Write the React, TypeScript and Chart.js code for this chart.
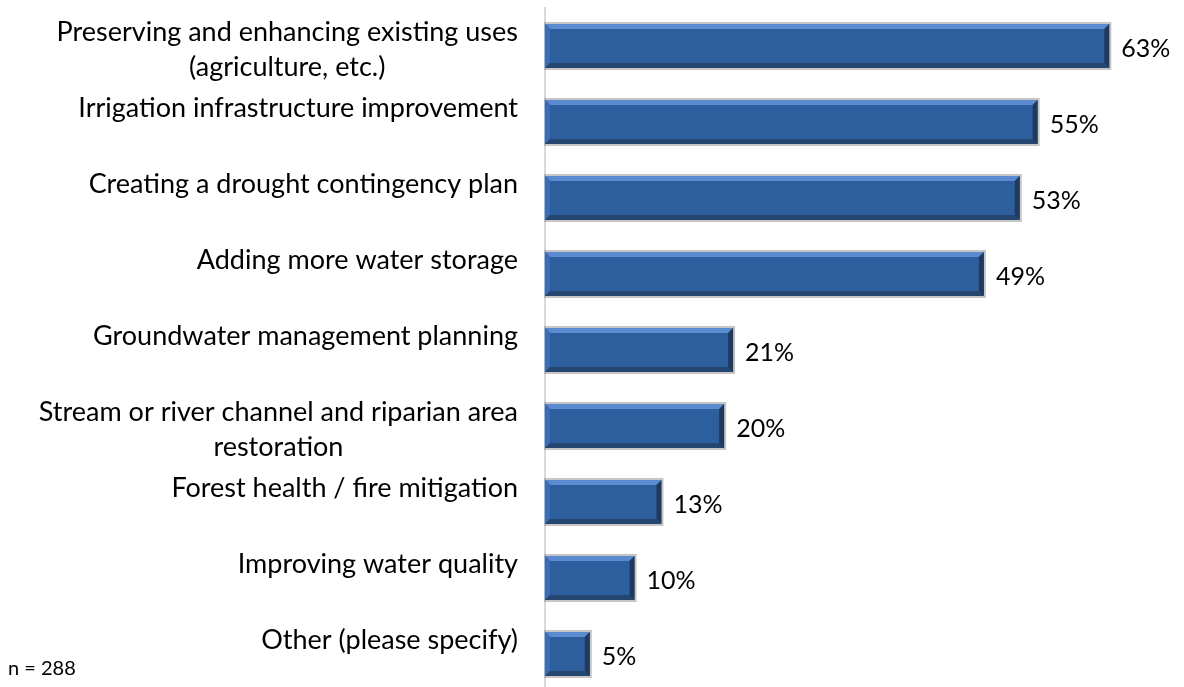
import React, { useEffect, useRef } from "react";
import { Chart, registerables } from "chart.js";

Chart.register(...registerables);

const categories: string[][] = [
  ["Preserving and enhancing existing uses", "(agriculture, etc.)"],
  ["Irrigation infrastructure improvement"],
  ["Creating a drought contingency plan"],
  ["Adding more water storage"],
  ["Groundwater management planning"],
  ["Stream or river channel and riparian area", "restoration"],
  ["Forest health / fire mitigation"],
  ["Improving water quality"],
  ["Other (please specify)"],
];
const values: number[] = [63, 55, 53, 49, 21, 20, 13, 10, 5];
const sampleNote = "n = 288";

const FONT = "Lato, 'Open Sans', sans-serif";

const bevelPlugin = {
  id: "bevel",
  afterDatasetsDraw(chart: any) {
    const ctx = chart.ctx;
    const meta = chart.getDatasetMeta(0);
    ctx.save();
    meta.data.forEach((bar: any, i: number) => {
      const { x, y, base, height } = bar.getProps(["x", "y", "base", "height"], true);
      const left = base;
      const right = x;
      const top = y - height / 2;
      const bottom = y + height / 2;
      const w = right - left;
      const b = Math.min(5, w / 4);
      // outline shadow
      ctx.strokeStyle = "rgba(150,150,150,0.55)";
      ctx.lineWidth = 2;
      ctx.strokeRect(left, top - 1, w + 1, height + 2);
      // top highlight
      ctx.fillStyle = "#5A8AD0";
      ctx.beginPath();
      ctx.moveTo(left, top);
      ctx.lineTo(right, top);
      ctx.lineTo(right - b, top + b);
      ctx.lineTo(left + b, top + b);
      ctx.closePath();
      ctx.fill();
      // left
      ctx.fillStyle = "#3C6DB2";
      ctx.beginPath();
      ctx.moveTo(left, top);
      ctx.lineTo(left + b, top + b);
      ctx.lineTo(left + b, bottom - b);
      ctx.lineTo(left, bottom);
      ctx.closePath();
      ctx.fill();
      // bottom
      ctx.fillStyle = "#24466F";
      ctx.beginPath();
      ctx.moveTo(left, bottom);
      ctx.lineTo(left + b, bottom - b);
      ctx.lineTo(right - b, bottom - b);
      ctx.lineTo(right, bottom);
      ctx.closePath();
      ctx.fill();
      // right
      ctx.fillStyle = "#1E3A60";
      ctx.beginPath();
      ctx.moveTo(right, top);
      ctx.lineTo(right, bottom);
      ctx.lineTo(right - b, bottom - b);
      ctx.lineTo(right - b, top + b);
      ctx.closePath();
      ctx.fill();
      // value label
      ctx.fillStyle = "#000";
      ctx.font = `25px ${FONT}`;
      ctx.textAlign = "left";
      ctx.textBaseline = "middle";
      ctx.fillText(values[i] + "%", right + 12, y + 3);
    });

    // category labels: block right-aligned, lines centered within block
    const yScale = chart.scales.y;
    ctx.font = `27px ${FONT}`;
    ctx.fillStyle = "#000";
    ctx.textAlign = "center";
    ctx.textBaseline = "middle";
    const labelRight = yScale.right - 27;
    categories.forEach((lines, i) => {
      const cy = yScale.getPixelForValue(i);
      const blockW = Math.max(...lines.map((l) => ctx.measureText(l).width));
      const cx = labelRight - blockW / 2;
      lines.forEach((line, j) => {
        ctx.fillText(line, cx, cy - 14 + j * 35);
      });
    });
    ctx.restore();
  },
};

export default function App() {
  const ref = useRef<HTMLCanvasElement | null>(null);
  useEffect(() => {
    document.body.style.margin = "0";
    if (!ref.current) return;
    const chart = new Chart(ref.current, {
      type: "bar",
      data: {
        labels: categories.map((c) => c.join(" ")),
        datasets: [
          {
            data: values,
            backgroundColor: "#2D5F9F",
            borderWidth: 0,
            barPercentage: 0.58,
            categoryPercentage: 1,
          },
        ],
      },
      options: {
        indexAxis: "y",
        animation: false,
        responsive: false,
        maintainAspectRatio: false,
        layout: { padding: { top: 8, right: 12, bottom: 0, left: 0 } },
        plugins: {
          legend: { display: false },
          tooltip: { enabled: false },
        },
        scales: {
          x: { display: false, min: 0, max: 70 },
          y: {
            afterFit: (scale: any) => {
              scale.width = 545;
              scale.paddingTop = 0;
              scale.paddingBottom = 0;
            },
            grid: { display: false, drawTicks: false },
            border: { display: true, color: "#D9D9D9", width: 2 },
            ticks: { display: false },
          },
        },
      },
      plugins: [bevelPlugin],
    });
    return () => chart.destroy();
  }, []);
  return (
    <div
      style={{
        position: "relative",
        width: 1184,
        height: 687,
        overflow: "hidden",
        background: "#fff",
      }}
    >
      <canvas ref={ref} width={1184} height={692} style={{ display: "block" }} />
      <div
        style={{
          position: "absolute",
          left: 8,
          top: 655,
          fontFamily: FONT,
          fontSize: 20,
          lineHeight: "24px",
          color: "#000",
        }}
      >
        {sampleNote}
      </div>
    </div>
  );
}
